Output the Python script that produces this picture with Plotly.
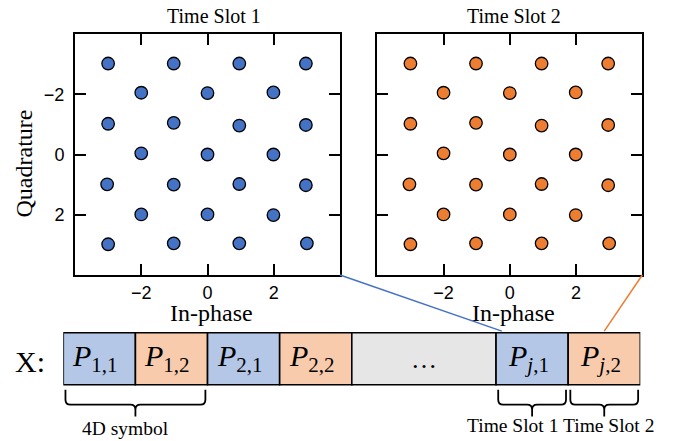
import plotly.graph_objects as go

W, H = 677, 441

# ---------------- data ----------------
# 2D projection of the 4D constellation (both slots alike)
inphase = [-3.00, -1.02, 0.96, 2.97,
           -2.00, 0.00, 1.99,
           -3.00, -1.02, 0.96, 2.97,
           -2.00, 0.00, 1.99,
           -3.03, -1.02, 0.96, 2.97,
           -2.00, 0.00, 1.99,
           -3.00, -1.02, 0.96, 3.00]
quadrature = [-3.02, -3.02, -3.02, -3.02,
              -2.05, -2.04, -2.06,
              -1.02, -1.05, -0.96, -0.98,
              -0.04, 0.00, 0.00,
              0.99, 1.00, 0.98, 1.02,
              1.99, 1.99, 2.01,
              2.98, 2.95, 2.95, 2.95]
axis_ticks = [-2, 0, 2]
panel_titles = ["Time Slot 1", "Time Slot 2"]

# symbol sequence X
seq_labels = ["<i>P</i><sub>1,1</sub>", "<i>P</i><sub>1,2</sub>",
              "<i>P</i><sub>2,1</sub>", "<i>P</i><sub>2,2</sub>",
              "…",
              "<i>P</i><sub><i>j</i>,1</sub>", "<i>P</i><sub><i>j</i>,2</sub>"]
seq_slot = [1, 2, 1, 2, 0, 1, 2]      # 0 = elided part
seq_units = [1, 1, 1, 1, 2, 1, 1]
brace_groups = [(0, 1, "4D symbol"), (5, 5, "Time Slot 1"), (6, 6, "Time Slot 2")]

# ---------------- styles ----------------
SERIF = "Liberation Serif"
SANS = "Liberation Sans"
marker_col = {1: "#4472C4", 2: "#ED7D31"}
fill_col = {0: "#E7E6E6", 1: "#B4C7E7", 2: "#F8CBAD"}

x1dom = [75 / W, 340 / W]
x2dom = [377.3 / W, 642.3 / W]
ydom = [1 - 275 / H, 1 - 34 / H]
rng = [-4, 4]
yrng = [4, -4]

x3dom = [63.3 / W, 640.3 / W]
x3rng = [0, sum(seq_units)]
y3dom = [0, 0.3]
unit_px = 52.0
center_px = 358.7
y3rng = [-(H - center_px) / unit_px, (center_px - (H - y3dom[1] * H)) / unit_px]


def to_paper(v, dom, r):
    return dom[0] + (v - r[0]) / (r[1] - r[0]) * (dom[1] - dom[0])


fig = go.Figure()

# constellation scatter
for k, (xa, ya) in enumerate([("x", "y"), ("x2", "y2")]):
    fig.add_trace(go.Scatter(
        x=inphase, y=quadrature, mode="markers", xaxis=xa, yaxis=ya,
        marker=dict(size=12.5, color=marker_col[k + 1],
                    line=dict(color="black", width=1.3)),
        hoverinfo="skip", showlegend=False))

# sequence boxes as horizontal bars
starts = []
acc = 0
for u in seq_units:
    starts.append(acc)
    acc += u
fig.add_trace(go.Bar(
    x=seq_units, base=starts, y=[0] * len(seq_units), orientation="h", width=1,
    marker=dict(color=[fill_col[s] for s in seq_slot],
                line=dict(color="black", width=1.6)),
    xaxis="x3", yaxis="y3", hoverinfo="skip", showlegend=False))

annotations = []
for lab, st, u, s in zip(seq_labels, starts, seq_units, seq_slot):
    annotations.append(dict(
        x=st + u / 2, y=0, xref="x3", yref="y3", text=lab, showarrow=False,
        font=dict(family=SERIF, size=30 if s else 26, color="black"),
        xanchor="center", yanchor="middle", xshift=-4 if s else 0,
        yshift=1 if s else -1))

annotations.append(dict(x=30 / W, y=1 - 361 / H, xref="paper", yref="paper",
                        text="X:", showarrow=False, xanchor="center", yanchor="middle",
                        font=dict(family=SERIF, size=30, color="black")))

# braces
shapes = []
rx = 5 / 72.1
ry = 5 / unit_px
ytop = -(389.7 - center_px) / unit_px
ymid = -(404.7 - center_px) / unit_px
ytip = -(416.5 - center_px) / unit_px
label_shift = [-10, -20, 4]
label_dy = [-3, 0, 0]
for (a, b, lab), xs, dy in zip(brace_groups, label_shift, label_dy):
    x0 = starts[a] + 0.03
    x1 = starts[b] + seq_units[b] - 0.03
    xc = (x0 + x1) / 2
    path = (f"M{x0},{ytop} L{x0},{ymid + ry} Q{x0},{ymid} {x0 + rx},{ymid} "
            f"L{xc - rx},{ymid} Q{xc},{ymid} {xc},{ymid - ry} L{xc},{ytip} "
            f"M{xc},{ymid - ry} Q{xc},{ymid} {xc + rx},{ymid} "
            f"L{x1 - rx},{ymid} Q{x1},{ymid} {x1},{ymid + ry} L{x1},{ytop}")
    shapes.append(dict(type="path", path=path, xref="x3", yref="y3",
                       line=dict(color="black", width=1.8)))
    annotations.append(dict(x=xc, y=-(425 - center_px) / unit_px, xref="x3", yref="y3",
                            text=lab, showarrow=False, xshift=xs, yshift=dy,
                            font=dict(family=SERIF, size=19.5, color="black"),
                            xanchor="center", yanchor="middle"))

# connector lines from panels to their slot boxes
targets = [(5, 0.08, x1dom), (6, 0.5, x2dom)]
for k, (bi, frac, xd) in enumerate(targets):
    px0 = to_paper(rng[1], xd, rng)
    py0 = to_paper(yrng[0], ydom, yrng)
    px1 = to_paper(starts[bi] + frac * seq_units[bi], x3dom, x3rng)
    py1 = to_paper(0.5 + 0.03, y3dom, y3rng)
    shapes.append(dict(type="line", xref="paper", yref="paper",
                       x0=px0, y0=py0, x1=px1, y1=py1,
                       line=dict(color=marker_col[k + 1], width=1.5)))

# panel titles and axis titles
for xd, t, xs in zip([x1dom, x2dom], panel_titles, [6, 4]):
    annotations.append(dict(x=(xd[0] + xd[1]) / 2, y=1 - 16 / H, xref="paper", yref="paper",
                            text=t, showarrow=False, xshift=xs,
                            font=dict(family=SERIF, size=20, color="black"),
                            xanchor="center", yanchor="middle"))
    annotations.append(dict(x=(xd[0] + xd[1]) / 2, y=1 - 313 / H, xref="paper", yref="paper",
                            text="In-phase", showarrow=False, xshift=4,
                            font=dict(family=SERIF, size=24, color="black"),
                            xanchor="center", yanchor="middle"))
annotations.append(dict(x=23 / W, y=1 - 163.5 / H, xref="paper", yref="paper",
                        text="Quadrature", showarrow=False, textangle=-90,
                        font=dict(family=SERIF, size=24, color="black"),
                        xanchor="center", yanchor="middle"))

common = dict(tickvals=axis_ticks, ticks="inside", ticklen=11, tickwidth=2,
              tickcolor="black", showline=True, linewidth=2, linecolor="black",
              mirror="ticks", showgrid=False, zeroline=False, fixedrange=True,
              tickfont=dict(family=SANS, size=18, color="black"))

hidden = dict(visible=False, showgrid=False, zeroline=False, fixedrange=True)

fig.update_layout(
    width=W, height=H, autosize=False,
    margin=dict(l=0, r=0, t=0, b=0),
    paper_bgcolor="white", plot_bgcolor="white",
    font=dict(family=SERIF, color="black"),
    xaxis=dict(domain=x1dom, range=rng, anchor="y", ticklabelstandoff=0, **common),
    yaxis=dict(domain=ydom, range=yrng, anchor="x", ticklabelstandoff=5, **common),
    xaxis2=dict(domain=x2dom, range=rng, anchor="y2", ticklabelstandoff=0, **common),
    yaxis2=dict(domain=ydom, range=yrng, anchor="x2", showticklabels=False, **common),
    xaxis3=dict(domain=x3dom, range=x3rng, anchor="y3", **hidden),
    yaxis3=dict(domain=y3dom, range=y3rng, anchor="x3", **hidden),
    annotations=annotations, shapes=shapes, showlegend=False,
)

fig.write_html("out.html")
